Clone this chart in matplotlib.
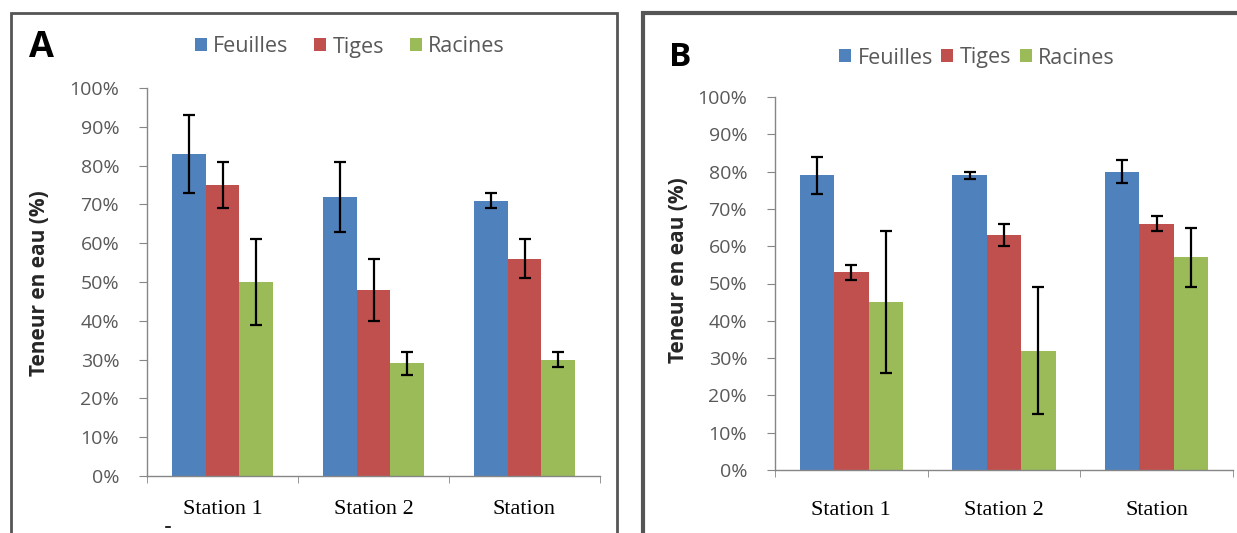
import matplotlib
matplotlib.use("Agg")
import matplotlib.pyplot as plt
from matplotlib.patches import Rectangle, Patch
from matplotlib.lines import Line2D
from matplotlib.ticker import PercentFormatter, FixedLocator
import numpy as np

# Water content (%) per organ and station
stations = ["Station 1", "Station 2", "Station"]
organs = ["Feuilles", "Tiges", "Racines"]
colors = ["#4F81BD", "#C0504D", "#9BBB59"]

# Panel A
a_feuilles = [83, 72, 71]
a_tiges = [75, 48, 56]
a_racines = [50, 29, 30]
a_err_feuilles = [10, 9, 2]
a_err_tiges = [6, 8, 5]
a_err_racines = [11, 3, 2]

# Panel B
b_feuilles = [79, 79, 80]
b_tiges = [53, 63, 66]
b_racines = [45, 32, 57]
b_err_feuilles = [5, 1, 3]
b_err_tiges = [2, 3, 2]
b_err_racines = [19, 17, 8]

yticks = list(range(0, 101, 10))

W, H = 1237, 533
fig = plt.figure(figsize=(W / 100, H / 100), dpi=100)
fig.patch.set_facecolor("white")

SANS = ["Open Sans", "DejaVu Sans"]
SERIF = ["Liberation Serif", "DejaVu Serif"]
GRAY = "#595959"
AXCOL = "#868686"


def px_box(x0, y_top, x1, y_bottom):
    return [x0 / W, 1 - y_bottom / H, (x1 - x0) / W, (y_bottom - y_top) / H]


def frame(x0, y_top, x1, y_bottom, lw):
    fig.add_artist(Rectangle((x0 / W, 1 - y_bottom / H), (x1 - x0) / W,
                             (y_bottom - y_top) / H, transform=fig.transFigure,
                             fill=False, edgecolor="#555555", linewidth=lw,
                             clip_on=False))


def panel(box, vals, errs, xpad):
    ax = fig.add_axes(box)
    x = np.arange(len(stations))
    bw = 0.225
    for i, (v, e) in enumerate(zip(vals, errs)):
        ax.bar(x + (i - 1) * bw, v, width=bw, color=colors[i], zorder=2)
        ax.errorbar(x + (i - 1) * bw, v, yerr=e, fmt="none", ecolor="black",
                    elinewidth=1.6, capsize=4, capthick=1.6, zorder=3)
    ax.set_xlim(-0.5, len(stations) - 0.5)
    ax.set_ylim(0, 100)
    ax.yaxis.set_major_locator(FixedLocator(yticks))
    ax.yaxis.set_major_formatter(PercentFormatter(decimals=0))
    ax.set_xticks(x)
    ax.set_xticklabels(stations, family=SERIF, fontsize=16, color="black")
    ax.xaxis.set_minor_locator(FixedLocator([-0.5, 0.5, 1.5, 2.5]))
    ax.tick_params(axis="x", which="major", length=0, pad=xpad)
    ax.tick_params(axis="x", which="minor", length=5, color=AXCOL, direction="out")
    ax.tick_params(axis="y", length=6, color=AXCOL, direction="out",
                   labelcolor=GRAY, labelsize=14, pad=14)
    for lab in ax.get_yticklabels():
        lab.set_family(SANS)
    for s in ["top", "right"]:
        ax.spines[s].set_visible(False)
    for s in ["left", "bottom"]:
        ax.spines[s].set_color(AXCOL)
        ax.spines[s].set_linewidth(1.0)
    ax.set_facecolor("white")
    return ax


# Panel frames
frame(11, 13, 617, H + 5, 2.0)
frame(643, 13, W + 5, H + 5, 3.0)

axA = panel(px_box(147, 88, 600, 476), [a_feuilles, a_tiges, a_racines],
            [a_err_feuilles, a_err_tiges, a_err_racines], 17)
axB = panel(px_box(775, 97, 1233, 470), [b_feuilles, b_tiges, b_racines],
            [b_err_feuilles, b_err_tiges, b_err_racines], 22)

fig.text(40 / W, 1 - 283 / H, "Teneur en eau (%)", rotation=90, ha="center",
         va="center", family=SANS, fontweight="bold", fontsize=15, color="#262626")
fig.text(678 / W, 1 - 270 / H, "Teneur en eau (%)", rotation=90, ha="center",
         va="center", family=SANS, fontweight="bold", fontsize=15, color="#262626")

# Panel letters
fig.text(41 / W, 1 - 48 / H, "A", ha="center", va="center", family=SANS,
         fontweight="bold", fontsize=26, color="black")
fig.text(680 / W, 1 - 58 / H, "B", ha="center", va="center", family=SANS,
         fontweight="bold", fontsize=24, color="black")

handles = [Patch(facecolor=c, edgecolor="none") for c in colors]
fig.legend(handles, organs, loc="center", bbox_to_anchor=(350 / W, 1 - 47 / H),
           ncol=3, frameon=False, prop={"family": SANS, "size": 15.5},
           labelcolor=GRAY, handlelength=0.55, handleheight=0.55,
           handletextpad=0.3, columnspacing=1.2)
fig.legend(handles, organs, loc="center", bbox_to_anchor=(977 / W, 1 - 58 / H),
           ncol=3, frameon=False, prop={"family": SANS, "size": 15.5},
           labelcolor=GRAY, handlelength=0.55, handleheight=0.55,
           handletextpad=0.3, columnspacing=0.4)

# small stray mark below the first station label
fig.add_artist(Line2D([166 / W, 170 / W], [1 - 527 / H, 1 - 527 / H],
                      transform=fig.transFigure, color="black", linewidth=1.2))

fig.savefig("out.png", dpi=100, facecolor="white")
